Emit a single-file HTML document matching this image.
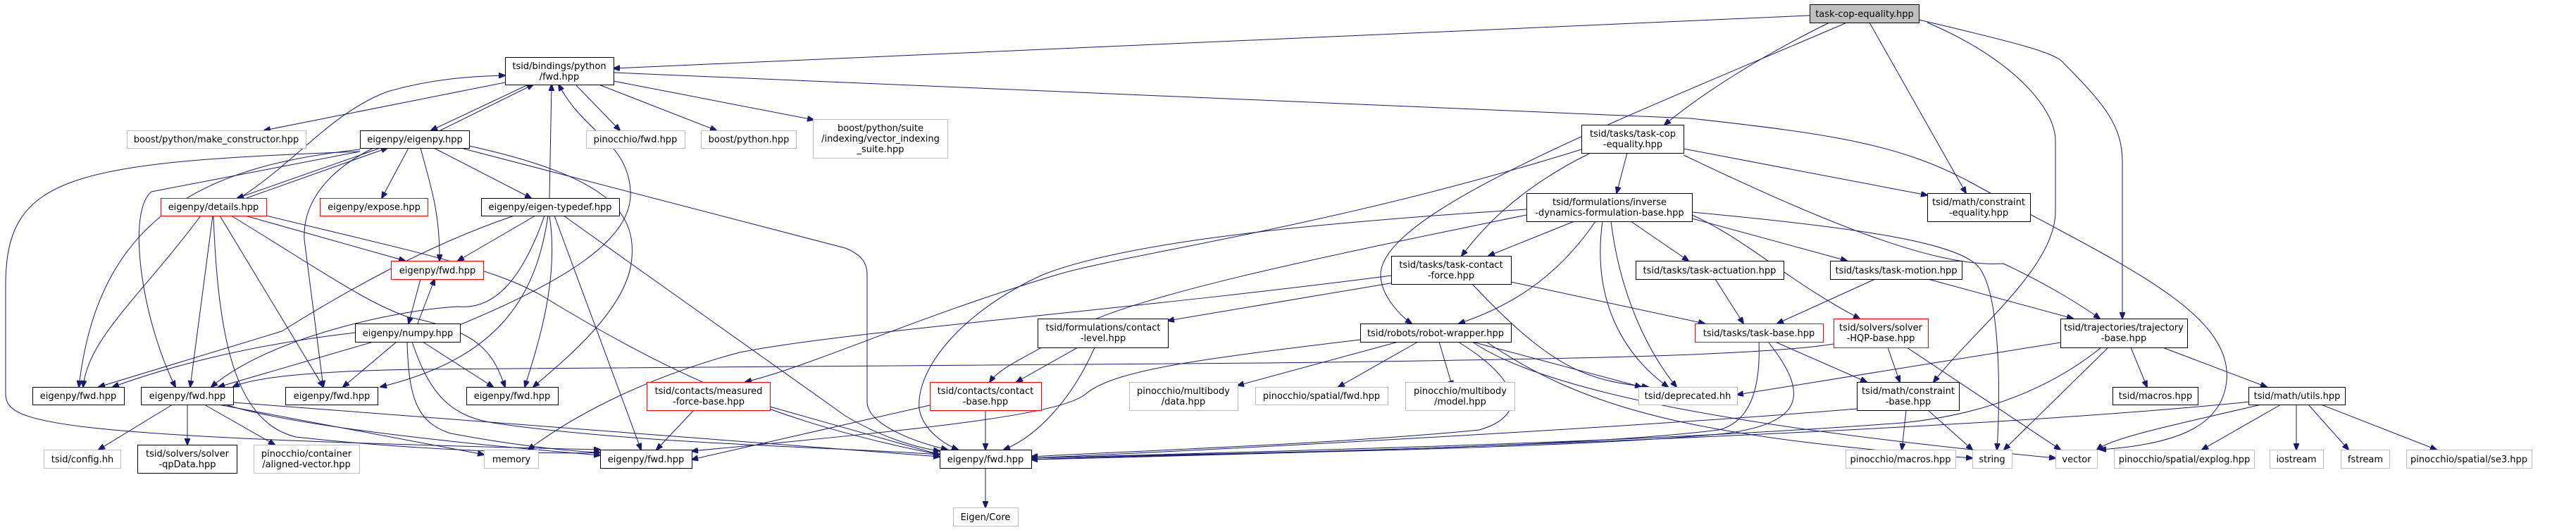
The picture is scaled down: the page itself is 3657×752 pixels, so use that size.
<!DOCTYPE html>
<html><head><meta charset="utf-8"><style>
html,body{margin:0;padding:0;background:#fff;}
svg{display:block;}
text{font-family:"DejaVu Sans","Liberation Sans",sans-serif;font-size:13px;fill:#000;text-anchor:middle;}
.e{fill:none;stroke:#191970;stroke-width:1;marker-end:url(#a);}
.n{fill:#fff;stroke:#000;stroke-width:1;}
.g{fill:#fff;stroke:#bfbfbf;stroke-width:1;}
.r{fill:#fff;stroke:#ff0000;stroke-width:1;}
</style></head><body>
<svg width="3657" height="752" viewBox="0 0 3657 752" xmlns="http://www.w3.org/2000/svg">
<defs><marker id="a" markerWidth="10" markerHeight="8" refX="9" refY="4" orient="auto" markerUnits="userSpaceOnUse"><path d="M0,0 L10,4 L0,8 z" fill="#191970" stroke="#191970"/></marker></defs>
<g>
<path class="e" d="M2569,22 L871,97"/>
<path class="e" d="M2597,32 C2500,80 2420,130 2363,177"/>
<path class="e" d="M2622,32 C2300,170 1960,300 1960,390 C1960,420 1990,450 2004,459"/>
<path class="e" d="M2654,32 L2791,274"/>
<path class="e" d="M2736,32 C2850,80 2918,150 2918,200 L2918,300 C2918,380 2800,470 2745,542"/>
<path class="e" d="M2724,28 C2860,60 2920,75 2930,90 C2990,150 3013,180 3013,230 L3013,452"/>
<path class="e" d="M717,117 L375,185"/>
<path class="e" d="M750,120 L612,185"/>
<path class="e" d="M625,185 L757,120"/>
<path class="e" d="M817,120 L880,185"/>
<path class="e" d="M850,120 L1017,185"/>
<path class="e" d="M871,115 L1155,170"/>
<path class="e" d="M871,103 L2400,168 C2600,190 2700,205 2800,260 C3000,370 3170,440 3161,540 C3155,600 3100,630 2981,638"/>
<path class="e" d="M340,281 C420,230 470,160 550,130 C620,110 680,108 717,107"/>
<path class="e" d="M780,281 L783,120"/>
<path class="e" d="M650,462 C800,400 900,340 895,270 C890,200 830,190 793,120"/>
<path class="e" d="M540,210 L337,281"/>
<path class="e" d="M350,281 L550,210"/>
<path class="e" d="M580,210 L542,281"/>
<path class="e" d="M616,210 L754,281"/>
<path class="e" d="M597,210 C610,260 625,300 624,370"/>
<path class="e" d="M511,212 C300,235 140,300 112,549"/>
<path class="e" d="M511,215 L215,272 C180,300 200,450 249,549"/>
<path class="e" d="M530,210 C450,250 430,300 432,340 L459,549"/>
<path class="e" d="M666,207 C860,250 910,300 895,380 C880,450 790,520 757,549"/>
<path class="e" d="M511,215 C100,230 10,250 8,400 L8,560 C10,600 60,620 852,638"/>
<path class="e" d="M658,211 L1200,352 C1225,362 1231,375 1231,390 L1231,570 C1231,600 1290,625 1345,638"/>
<path class="e" d="M285,306 C200,420 125,480 118,549"/>
<path class="e" d="M302,306 L270,549"/>
<path class="e" d="M312,306 L459,549"/>
<path class="e" d="M328,306 C450,380 520,430 580,450 C680,470 700,500 717,549"/>
<path class="e" d="M348,306 L575,370"/>
<path class="e" d="M303,306 C310,500 340,600 420,620 C600,640 800,645 852,642"/>
<path class="e" d="M378,306 C600,360 700,380 770,420 C950,530 1100,600 1334,645"/>
<path class="e" d="M760,306 L650,370"/>
<path class="e" d="M730,306 C600,350 480,420 400,470 L140,549"/>
<path class="e" d="M773,306 C740,400 700,440 650,435 C560,440 380,480 300,549"/>
<path class="e" d="M778,306 C760,430 700,510 540,549"/>
<path class="e" d="M780,306 C795,400 760,500 745,549"/>
<path class="e" d="M787,306 L910,638"/>
<path class="e" d="M800,306 L1200,590 C1250,620 1300,635 1334,640"/>
<path class="e" d="M597,396 L580,459"/>
<path class="e" d="M593,459 L617,396"/>
<path class="e" d="M504,472 C350,490 240,520 160,549"/>
<path class="e" d="M530,485 L310,549"/>
<path class="e" d="M563,485 L487,549"/>
<path class="e" d="M600,485 L700,549"/>
<path class="e" d="M578,485 C580,560 590,600 640,615 C720,630 800,640 852,642"/>
<path class="e" d="M585,485 C610,560 640,590 700,600 C900,630 1200,635 1334,645"/>
<path class="e" d="M245,574 L140,638"/>
<path class="e" d="M266,574 L266,631"/>
<path class="e" d="M290,574 L390,631"/>
<path class="e" d="M310,574 L687,645"/>
<path class="e" d="M320,574 C400,600 600,625 852,646"/>
<path class="e" d="M331,571 L1334,648"/>
<path class="e" d="M985,582 L932,638"/>
<path class="e" d="M1093,577 L1334,645"/>
<path class="e" d="M2603,488 C2500,505 2200,510 1800,515 L600,524 C450,526 360,535 331,549"/>
<path class="e" d="M1975,391 C1600,440 1200,470 1050,500 C900,540 800,600 750,638"/>
<path class="e" d="M1985,400 L1658,455"/>
<path class="e" d="M2145,400 L2420,459"/>
<path class="e" d="M2090,403 C2200,520 2250,540 2340,549"/>
<path class="e" d="M2258,217 C2150,270 2100,330 2075,363"/>
<path class="e" d="M2310,217 L2295,274"/>
<path class="e" d="M2245,212 C1900,320 1600,360 1500,390 C1300,450 1150,520 1058,542"/>
<path class="e" d="M2390,211 L2736,277"/>
<path class="e" d="M2390,220 C2600,320 2750,380 2844,374 C2900,400 2950,430 2981,452"/>
<path class="e" d="M2167,305 C1900,360 1600,420 1520,470 C1470,500 1420,520 1405,542"/>
<path class="e" d="M2167,297 C1800,320 1580,350 1480,390 C1370,440 1300,520 1305,580 C1310,610 1340,630 1360,638"/>
<path class="e" d="M2235,314 L2113,363"/>
<path class="e" d="M2265,314 C2220,380 2160,430 2071,459"/>
<path class="e" d="M2315,314 L2397,370"/>
<path class="e" d="M2275,314 C2260,420 2300,500 2368,549"/>
<path class="e" d="M2287,314 C2300,420 2340,500 2380,549"/>
<path class="e" d="M2402,310 L2622,370"/>
<path class="e" d="M2402,305 C2480,340 2540,400 2640,452"/>
<path class="e" d="M2402,301 C2600,320 2780,340 2810,380 C2840,420 2840,560 2835,638"/>
<path class="e" d="M1530,493 L1443,542"/>
<path class="e" d="M1554,493 C1520,570 1470,620 1425,638"/>
<path class="e" d="M1399,582 L1399,638"/>
<path class="e" d="M1320,575 L982,652"/>
<path class="e" d="M1985,485 L1757,547"/>
<path class="e" d="M2013,485 L1900,549"/>
<path class="e" d="M2043,485 L2062,549"/>
<path class="e" d="M2090,485 L2330,549"/>
<path class="e" d="M1931,482 C1700,510 1580,525 1540,560 C1500,590 1300,610 982,640"/>
<path class="e" d="M2070,485 C2160,540 2170,590 2100,610 C1900,630 1600,640 1464,648"/>
<path class="e" d="M2110,485 C2250,580 2400,620 2800,650"/>
<path class="e" d="M2090,485 C2200,560 2500,610 2918,650"/>
<path class="e" d="M2520,485 L2650,542"/>
<path class="e" d="M2497,485 C2500,560 2480,600 2440,610 C2200,640 1600,645 1464,650"/>
<path class="e" d="M2510,485 C2570,560 2560,600 2450,615 C2200,640 1600,645 1464,652"/>
<path class="e" d="M2435,396 L2475,459"/>
<path class="e" d="M2662,396 L2523,459"/>
<path class="e" d="M2737,396 L2943,452"/>
<path class="e" d="M2680,493 L2697,542"/>
<path class="e" d="M2707,493 L2925,638"/>
<path class="e" d="M2925,486 L2466,560"/>
<path class="e" d="M2993,493 L2845,638"/>
<path class="e" d="M3025,493 L3048,549"/>
<path class="e" d="M3070,493 L3218,549"/>
<path class="e" d="M2983,493 C2900,560 2800,590 2700,600 C2300,630 1800,640 1464,650"/>
<path class="e" d="M2706,582 L2700,638"/>
<path class="e" d="M2737,582 L2800,638"/>
<path class="e" d="M2636,580 C2400,600 1900,630 1464,650"/>
<path class="e" d="M3238,574 L3126,638"/>
<path class="e" d="M3260,574 L3260,638"/>
<path class="e" d="M3277,574 L3334,638"/>
<path class="e" d="M3295,574 L3459,638"/>
<path class="e" d="M3210,574 C3100,600 3000,620 2977,638"/>
<path class="e" d="M3195,570 C2800,610 2000,640 1464,652"/>
<path class="e" d="M1399,664 L1399,720"/>
</g>
<g>
<rect x="2569.5" y="6.5" width="155" height="26" fill="#bfbfbf" stroke="#000"/><text x="2647" y="24">task-cop-equality.hpp</text>
<rect class="n" x="717.5" y="81.5" width="154" height="39"/><text x="794" y="98">tsid/bindings/python</text><text x="794" y="113">/fwd.hpp</text>
<rect class="g" x="180.5" y="185.5" width="254" height="25"/><text x="307" y="202">boost/python/make_constructor.hpp</text>
<rect class="n" x="511.5" y="185.5" width="155" height="25"/><text x="589" y="202">eigenpy/eigenpy.hpp</text>
<rect class="g" x="832.5" y="185.5" width="140" height="25"/><text x="902" y="202">pinocchio/fwd.hpp</text>
<rect class="g" x="995.5" y="185.5" width="135" height="25"/><text x="1063" y="202">boost/python.hpp</text>
<rect class="g" x="1154.5" y="169.5" width="191" height="55"/><text x="1250" y="186">boost/python/suite</text><text x="1250" y="201">/indexing/vector_indexing</text><text x="1250" y="216">_suite.hpp</text>
<rect class="r" x="228.5" y="281.5" width="150" height="25"/><text x="303" y="298">eigenpy/details.hpp</text>
<rect class="r" x="454.5" y="281.5" width="153" height="25"/><text x="531" y="298">eigenpy/expose.hpp</text>
<rect class="n" x="683.5" y="281.5" width="196" height="25"/><text x="781" y="298">eigenpy/eigen-typedef.hpp</text>
<rect class="r" x="555.5" y="370.5" width="131" height="26"/><text x="621" y="388">eigenpy/fwd.hpp</text>
<rect class="n" x="504.5" y="459.5" width="149" height="26"/><text x="579" y="477">eigenpy/numpy.hpp</text>
<rect class="n" x="46.5" y="549.5" width="130" height="25"/><text x="111" y="566">eigenpy/fwd.hpp</text>
<rect class="n" x="200.5" y="549.5" width="131" height="25"/><text x="266" y="566">eigenpy/fwd.hpp</text>
<rect class="n" x="405.5" y="549.5" width="131" height="25"/><text x="471" y="566">eigenpy/fwd.hpp</text>
<rect class="n" x="662.5" y="549.5" width="130" height="25"/><text x="727" y="566">eigenpy/fwd.hpp</text>
<rect class="r" x="918.5" y="542.5" width="175" height="40"/><text x="1006" y="559">tsid/contacts/measured</text><text x="1006" y="574">-force-base.hpp</text>
<rect class="g" x="62.5" y="638.5" width="109" height="26"/><text x="117" y="656">tsid/config.hh</text>
<rect class="n" x="195.5" y="631.5" width="141" height="40"/><text x="266" y="648">tsid/solvers/solver</text><text x="266" y="663">-qpData.hpp</text>
<rect class="g" x="360.5" y="631.5" width="150" height="40"/><text x="435" y="648">pinocchio/container</text><text x="435" y="663">/aligned-vector.hpp</text>
<rect class="g" x="687.5" y="638.5" width="77" height="26"/><text x="726" y="656">memory</text>
<rect class="n" x="852.5" y="638.5" width="130" height="26"/><text x="917" y="656">eigenpy/fwd.hpp</text>
<rect class="n" x="2245.5" y="177.5" width="145" height="40"/><text x="2318" y="194">tsid/tasks/task-cop</text><text x="2318" y="209">-equality.hpp</text>
<rect class="n" x="2167.5" y="274.5" width="235" height="40"/><text x="2285" y="291">tsid/formulations/inverse</text><text x="2285" y="306">-dynamics-formulation-base.hpp</text>
<rect class="n" x="1975.5" y="363.5" width="170" height="40"/><text x="2060" y="380">tsid/tasks/task-contact</text><text x="2060" y="395">-force.hpp</text>
<rect class="n" x="2322.5" y="370.5" width="210" height="26"/><text x="2427" y="388">tsid/tasks/task-actuation.hpp</text>
<rect class="n" x="1473.5" y="452.5" width="185" height="41"/><text x="1566" y="469">tsid/formulations/contact</text><text x="1566" y="484">-level.hpp</text>
<rect class="n" x="1931.5" y="459.5" width="214" height="26"/><text x="2038" y="477">tsid/robots/robot-wrapper.hpp</text>
<rect class="r" x="1320.5" y="542.5" width="158" height="40"/><text x="1399" y="559">tsid/contacts/contact</text><text x="1399" y="574">-base.hpp</text>
<rect class="g" x="1603.5" y="542.5" width="154" height="40"/><text x="1680" y="559">pinocchio/multibody</text><text x="1680" y="574">/data.hpp</text>
<rect class="g" x="1782.5" y="549.5" width="188" height="25"/><text x="1876" y="566">pinocchio/spatial/fwd.hpp</text>
<rect class="g" x="1995.5" y="542.5" width="155" height="40"/><text x="2073" y="559">pinocchio/multibody</text><text x="2073" y="574">/model.hpp</text>
<rect class="g" x="2326.5" y="549.5" width="140" height="25"/><text x="2396" y="566">tsid/deprecated.hh</text>
<rect class="n" x="1334.5" y="638.5" width="130" height="26"/><text x="1399" y="656">eigenpy/fwd.hpp</text>
<rect class="g" x="1353.5" y="720.5" width="92" height="26"/><text x="1399" y="738">Eigen/Core</text>
<rect class="n" x="2736.5" y="274.5" width="146" height="40"/><text x="2809" y="291">tsid/math/constraint</text><text x="2809" y="306">-equality.hpp</text>
<rect class="n" x="2598.5" y="370.5" width="187" height="26"/><text x="2692" y="388">tsid/tasks/task-motion.hpp</text>
<rect class="r" x="2406.5" y="459.5" width="182" height="26"/><text x="2497" y="477">tsid/tasks/task-base.hpp</text>
<rect class="r" x="2603.5" y="452.5" width="134" height="41"/><text x="2670" y="469">tsid/solvers/solver</text><text x="2670" y="484">-HQP-base.hpp</text>
<rect class="n" x="2925.5" y="452.5" width="180" height="41"/><text x="3015" y="469">tsid/trajectories/trajectory</text><text x="3015" y="484">-base.hpp</text>
<rect class="n" x="2636.5" y="542.5" width="145" height="40"/><text x="2709" y="559">tsid/math/constraint</text><text x="2709" y="574">-base.hpp</text>
<rect class="n" x="2999.5" y="549.5" width="121" height="25"/><text x="3060" y="566">tsid/macros.hpp</text>
<rect class="n" x="3192.5" y="549.5" width="137" height="25"/><text x="3261" y="566">tsid/math/utils.hpp</text>
<rect class="g" x="2620.5" y="638.5" width="156" height="26"/><text x="2698" y="656">pinocchio/macros.hpp</text>
<rect class="g" x="2800.5" y="638.5" width="56" height="26"/><text x="2828" y="656">string</text>
<rect class="g" x="2918.5" y="638.5" width="59" height="26"/><text x="2948" y="656">vector</text>
<rect class="g" x="3001.5" y="638.5" width="199" height="26"/><text x="3101" y="656">pinocchio/spatial/explog.hpp</text>
<rect class="g" x="3222.5" y="638.5" width="76" height="26"/><text x="3260" y="656">iostream</text>
<rect class="g" x="3323.5" y="638.5" width="69" height="26"/><text x="3358" y="656">fstream</text>
<rect class="g" x="3416.5" y="638.5" width="178" height="26"/><text x="3505" y="656">pinocchio/spatial/se3.hpp</text>
</g>
</svg>
</body></html>
